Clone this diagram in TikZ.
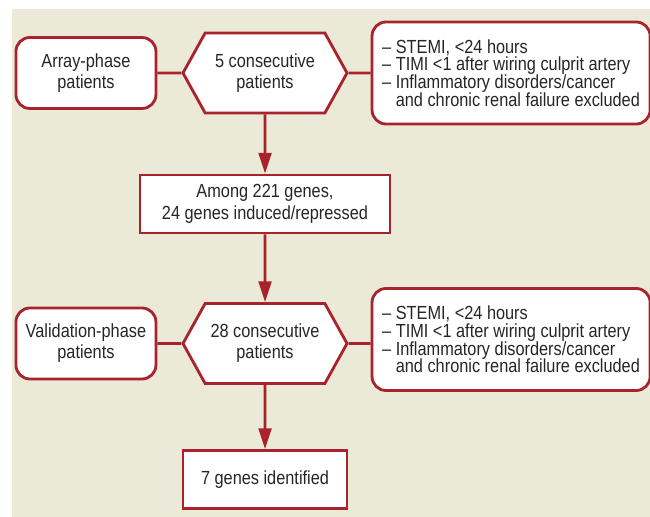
\documentclass[tikz,border=0pt]{standalone}
\usepackage{fontspec}
\setmainfont{Liberation Sans}[FakeStretch=0.86]
\usepackage{tikz}
\usetikzlibrary{positioning, calc}
\usetikzlibrary{arrows.meta}
\usetikzlibrary{shapes.symbols}

\newcommand{\critfont}{\fontsize{13.5}{12.6}\selectfont\lineskiplimit=-10pt\relax}
\newcommand{\critlines}{-- STEMI, <24 hours\\
    -- TIMI <1 after wiring culprit artery\\
    -- Inflammatory disorders/cancer\\
    \hphantom{-- }and chronic renal failure excluded}

\begin{document}
\begin{tikzpicture}
    [x=0.025cm, y=-0.025cm, node distance=0.6cm and 0.6cm,
    post/.style={-{Triangle[length=5.2mm,width=3.2mm]}, draw=darkred, line width=2pt},
    link/.style={draw=darkred, line width=2pt},
    ph/.style={rectangle, draw=darkred, line width=2pt, fill=white, text=black!85, rounded corners=3.5mm, minimum width=3.5cm, minimum height=1.775cm, align=center, font=\fontsize{13.5}{15}\selectfont},
    hexa/.style={signal, signal to=west and east, signal pointer angle=122, draw=darkred, line width=2pt, fill=white, text=black!85, minimum width=4.1cm, minimum height=2cm, align=center, font=\fontsize{13.5}{15}\selectfont},
    crit/.style={rectangle, draw=darkred, line width=2pt, fill=white, text=black!85, rounded corners=3.5mm, minimum width=6.95cm, minimum height=2.55cm, align=left, font=\critfont},
    res/.style={rectangle, draw=darkred, line width=2pt, fill=white, text=black!85, minimum height=1.45cm, align=center, font=\fontsize{13.5}{15.5}\selectfont}]
    \definecolor{darkred}{RGB}{168,35,43};
    \definecolor{beige}{RGB}{235,233,216};
    \fill[white] (0,0) rectangle (650,517);
    \fill[beige] (12,9) rectangle (650,517);
    \useasboundingbox (0,0) rectangle (650,517);
    % array phase
    \node [hexa] (Five) at (265,73) {5 consecutive\\patients};
    \node [ph, left=0.6cm of Five] (Array) {Array-phase\\patients};
    \node [crit, right=0.55cm of Five] (CritA) {\critlines};
    \node [res, minimum width=6.25cm] (Among) at (265,204) {Among 221 genes,\\24 genes induced/repressed};
    % validation phase
    \node [hexa] (TwentyEight) at (265,343.5) {28 consecutive\\patients};
    \node [ph, left=0.6cm of TwentyEight] (Valid) {Validation-phase\\patients};
    \node [crit, right=0.55cm of TwentyEight, yshift=0.1cm] (CritB) {\critlines};
    \node [res, minimum width=4.1cm] (Seven) at (265,479.5) {7 genes identified};
    \draw[link] (Array) -- (Five);
    \draw[link] (Five) -- (Five -| CritA.west);
    \draw[link] (Valid) -- (TwentyEight);
    \draw[link] (TwentyEight) -- (TwentyEight -| CritB.west);
    \draw[post] (Five) -- (Among);
    \draw[post] (Among) -- (TwentyEight);
    \draw[post] (TwentyEight) -- (Seven);
\end{tikzpicture}
\end{document}
